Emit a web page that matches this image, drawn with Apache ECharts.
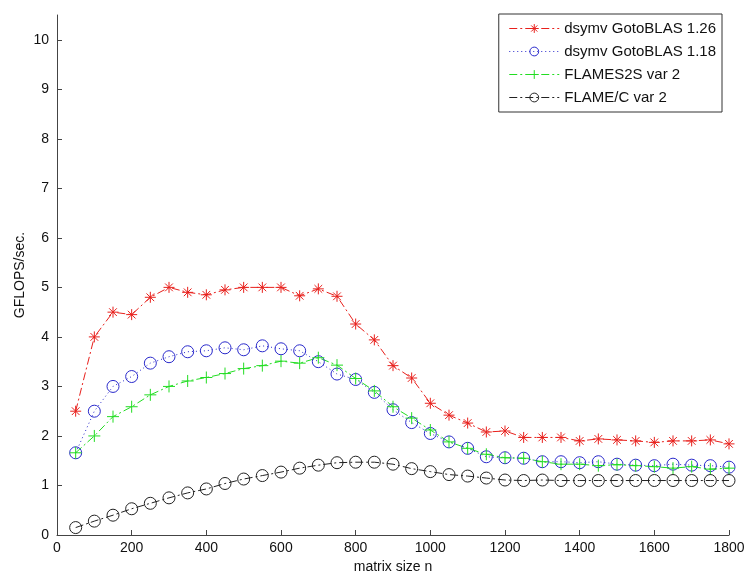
<!DOCTYPE html>
<html>
<head>
<meta charset="utf-8">
<script src="https://cdn.jsdelivr.net/npm/echarts@6/dist/echarts.min.js"></script>
<style>
  html, body { margin: 0; padding: 0; background: #fff; }
  #chart { width: 745px; height: 577px; }
</style>
</head>
<body>
<div id="chart"></div>
<script>
// matrix sizes n = 50 .. 1800
const sizes = [50, 100, 150, 200, 250, 300, 350, 400, 450, 500, 550, 600, 650, 700, 750, 800, 850, 900,
  950, 1000, 1050, 1100, 1150, 1200, 1250, 1300, 1350, 1400, 1450, 1500, 1550, 1600, 1650, 1700, 1750, 1800];

const goto126 = [2.5, 4.0, 4.5, 4.45, 4.8, 5.0, 4.9, 4.85, 4.95, 5.0, 5.0, 5.0, 4.83, 4.97, 4.82, 4.26, 3.94, 3.42,
  3.17, 2.66, 2.42, 2.26, 2.08, 2.1, 1.97, 1.97, 1.97, 1.9, 1.94, 1.92, 1.9, 1.87, 1.9, 1.9, 1.92, 1.84];
const goto118 = [1.66, 2.5, 3.0, 3.2, 3.47, 3.6, 3.7, 3.72, 3.78, 3.74, 3.82, 3.76, 3.72, 3.5, 3.25, 3.14, 2.88, 2.53,
  2.27, 2.05, 1.88, 1.75, 1.58, 1.56, 1.55, 1.48, 1.48, 1.46, 1.48, 1.43, 1.41, 1.4, 1.43, 1.41, 1.4, 1.37];
const flames2s = [1.66, 2.0, 2.39, 2.59, 2.83, 3.0, 3.11, 3.18, 3.26, 3.36, 3.42, 3.51, 3.47, 3.58, 3.43, 3.16, 2.91, 2.59,
  2.36, 2.12, 1.88, 1.75, 1.63, 1.56, 1.55, 1.48, 1.43, 1.43, 1.4, 1.42, 1.4, 1.38, 1.35, 1.38, 1.33, 1.35];
const flameC = [0.15, 0.28, 0.4, 0.53, 0.64, 0.75, 0.85, 0.93, 1.04, 1.13, 1.2, 1.27, 1.35, 1.41, 1.46, 1.47, 1.47, 1.43,
  1.34, 1.28, 1.22, 1.19, 1.15, 1.11, 1.1, 1.11, 1.1, 1.1, 1.1, 1.1, 1.1, 1.1, 1.1, 1.1, 1.1, 1.1];

const seriesNames = ['dsymv GotoBLAS 1.26', 'dsymv GotoBLAS 1.18', 'FLAMES2S var 2', 'FLAME/C var 2'];
const yTicks = [0, 1, 2, 3, 4, 5, 6, 7, 8, 9, 10];

const FONT = '"Liberation Sans", Arial, sans-serif';
const STAR = 'path://M0,-10L0,10M-10,0L10,0M-7,-7L7,7M-7,7L7,-7';
const PLUS = 'path://M0,-10L0,10M-10,0L10,0';

function pairs(vals) {
  return sizes.map((n, i) => [n, vals[i]]);
}

function makeSeries(name, vals, color, dash, symbol, size) {
  return {
    name: name,
    type: 'line',
    data: pairs(vals),
    symbol: symbol,
    symbolSize: size,
    showAllSymbol: true,
    animation: false,
    lineStyle: { color: color, width: 1, type: dash },
    itemStyle: { color: 'rgba(0,0,0,0)', borderColor: color, borderWidth: 1 }
  };
}

const chart = echarts.init(document.getElementById('chart'), null, { renderer: 'canvas' });

let option = {
  backgroundColor: '#fff',
  animation: false,
  grid: { left: 57, right: 16, top: 15, bottom: 42, outerBoundsMode: 'none' },
  legend: {
    orient: 'vertical',
    right: 23,
    top: 14,
    data: seriesNames,
    backgroundColor: '#fff',
    borderColor: '#333',
    borderWidth: 1,
    borderRadius: 0,
    padding: [7, 6, 7, 10],
    itemWidth: 50,
    itemHeight: 11,
    itemGap: 8,
    itemStyle: { borderWidth: 1 },
    lineStyle: { width: 1 },
    textStyle: { fontFamily: FONT, fontSize: 15, color: '#111' }
  },
  xAxis: {
    type: 'value',
    min: 0,
    max: 1800,
    interval: 200,
    name: 'matrix size n',
    nameLocation: 'middle',
    nameGap: 22,
    nameTextStyle: { fontFamily: FONT, fontSize: 14, color: '#111' },
    axisLine: { lineStyle: { color: '#444' } },
    axisTick: { inside: true, length: 5, lineStyle: { color: '#444' } },
    axisLabel: { fontFamily: FONT, fontSize: 14, color: '#111', margin: 6, formatter: v => String(v) },
    splitLine: { show: false }
  },
  yAxis: {
    type: 'value',
    min: 0,
    max: 10.5,
    name: 'GFLOPS/sec.',
    nameLocation: 'middle',
    nameGap: 30,
    nameMoveOverlap: false,
    nameTextStyle: { fontFamily: FONT, fontSize: 14, color: '#111' },
    axisLine: { show: true, lineStyle: { color: '#444' } },
    axisTick: { show: true, inside: true, length: 5, customValues: yTicks, lineStyle: { color: '#444' } },
    axisLabel: { fontFamily: FONT, fontSize: 14, color: '#111', margin: 8, customValues: yTicks },
    splitLine: { show: false }
  },
  series: [
    makeSeries(seriesNames[0], goto126, '#e8201c', [8, 3, 2, 3], STAR, 11),
    makeSeries(seriesNames[1], goto118, '#2a2acc', [1, 3], 'circle', 12),
    makeSeries(seriesNames[2], flames2s, '#22dd22', [8, 3, 2, 3], PLUS, 12),
    makeSeries(seriesNames[3], flameC, '#222222', [8, 3, 2, 3], 'circle', 12)
  ]
};

chart.setOption(option);
</script>
</body>
</html>
